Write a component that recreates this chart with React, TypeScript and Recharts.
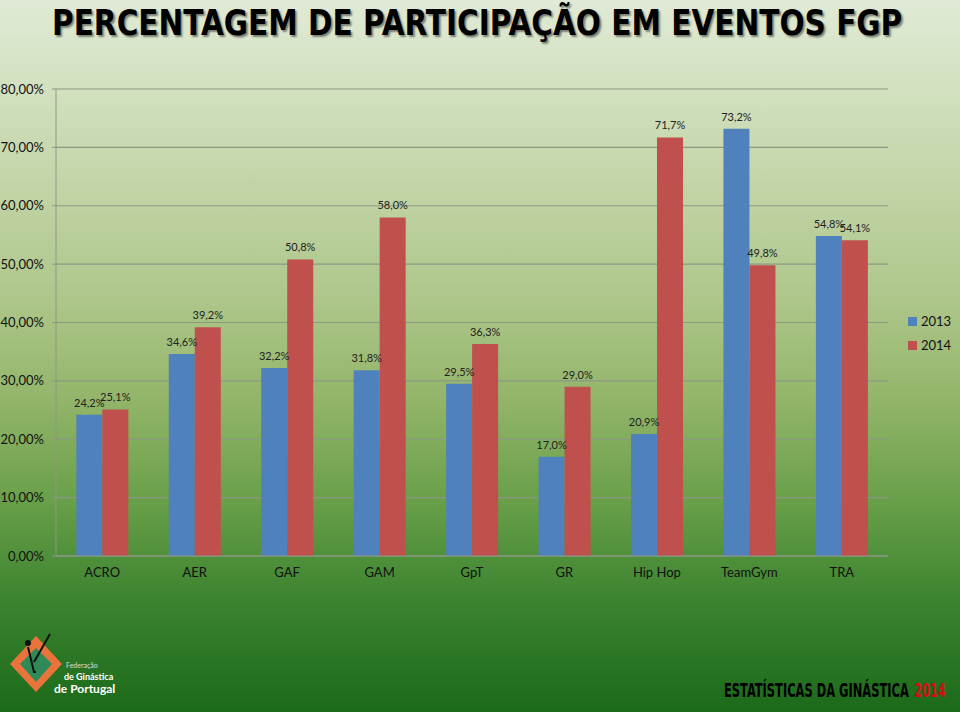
import { useLayoutEffect, useRef, useState } from "react";
import { BarChart, Bar, XAxis, YAxis, CartesianGrid, LabelList } from "recharts";

const categorias = ["ACRO", "AER", "GAF", "GAM", "GpT", "GR", "Hip Hop", "TeamGym", "TRA"];
const valores2013 = [24.2, 34.6, 32.2, 31.8, 29.5, 17.0, 20.9, 73.2, 54.8];
const valores2014 = [25.1, 39.2, 50.8, 58.0, 36.3, 29.0, 71.7, 49.8, 54.1];
const ticksY = [0, 10, 20, 30, 40, 50, 60, 70, 80];

const AZUL = "#4f81bd";
const VERMELHO = "#c0504d";
const FONTE = "Lato, 'Open Sans', sans-serif";
const FONTE_ESTREITA = "'Liberation Sans Narrow', 'DejaVu Sans Condensed', sans-serif";

const dados = categorias.map((cat, i) => ({
  cat,
  a2013: valores2013[i],
  a2014: valores2014[i],
}));

const fmtPct = (v: number) => v.toFixed(1).replace(".", ",") + "%";
const fmtTick = (v: number) => v.toFixed(2).replace(".", ",") + "%";

// texto html comprimido na horizontal até caber na largura pedida
function TextoAjustado({
  children,
  left,
  top,
  width,
  style,
}: {
  children: React.ReactNode;
  left: number;
  top: number;
  width: number;
  style?: React.CSSProperties;
}) {
  const ref = useRef<HTMLSpanElement>(null);
  const [escala, setEscala] = useState(1);
  useLayoutEffect(() => {
    if (ref.current) {
      const w = ref.current.offsetWidth;
      if (w > 0) setEscala(width / w);
    }
  }, [width]);
  return (
    <span
      ref={ref}
      style={{
        position: "absolute",
        left,
        top,
        whiteSpace: "nowrap",
        fontFamily: FONTE_ESTREITA,
        fontWeight: "bold",
        lineHeight: 1,
        transform: `scaleX(${escala})`,
        transformOrigin: "left top",
        ...style,
      }}
    >
      {children}
    </span>
  );
}

// legenda à direita, fora do gráfico (senão o recharts rouba altura da área)
const Legenda = () => (
  <div
    style={{
      position: "absolute",
      left: 908,
      top: 309,
      fontFamily: FONTE,
      fontSize: 13,
      color: "#111",
      lineHeight: "24px",
    }}
  >
    {[
      { cor: AZUL, nome: "2013" },
      { cor: VERMELHO, nome: "2014" },
    ].map((item) => (
      <div key={item.nome} style={{ display: "flex", alignItems: "center" }}>
        <span style={{ width: 9, height: 9, background: item.cor, marginRight: 4, display: "inline-block" }} />
        {item.nome}
      </div>
    ))}
  </div>
);

export default function App() {
  return (
    <div
      style={{
        position: "absolute",
        left: 0,
        top: 0,
        width: 960,
        height: 712,
        overflow: "hidden",
        background:
          "linear-gradient(to bottom, #e0ead6 0%, #d4e2c2 11%, #aec68a 42%, #93b56a 56%, #6aa04a 70%, #3d8430 84%, #1b6a1a 100%)",
        fontFamily: FONTE,
      }}
    >
      <TextoAjustado
        left={52}
        top={5}
        width={850}
        style={{ fontSize: 36, color: "#000", textShadow: "2px 2px 2px rgba(0,0,0,0.45)" }}
      >
        PERCENTAGEM DE PARTICIPAÇÃO EM EVENTOS FGP
      </TextoAjustado>

      <div style={{ position: "absolute", left: 0, top: 0 }}>
        <BarChart
          width={960}
          height={600}
          data={dados}
          margin={{ top: 89, right: 72, bottom: 14, left: 0 }}
          barCategoryGap="22%"
          barGap={0}
        >
          <CartesianGrid vertical={false} stroke="#8c9886" strokeWidth={1.2} />
          <XAxis
            dataKey="cat"
            height={30}
            tickLine={false}
            axisLine={{ stroke: "#8c9886" }}
            tick={{ fill: "#111", fontSize: 13, fontFamily: FONTE }}
            tickMargin={6}
          />
          <YAxis
            width={56}
            domain={[0, 80]}
            ticks={ticksY}
            tickFormatter={fmtTick}
            axisLine={{ stroke: "#8c9886" }}
            tickLine={{ stroke: "#8c9886" }}
            tickSize={4}
            tickMargin={8}
            tick={{ fill: "#111", fontSize: 13, fontFamily: FONTE }}
          />
          <Bar dataKey="a2013" name="2013" fill={AZUL} isAnimationActive={false}>
            <LabelList dataKey="a2013" position="top" offset={8} formatter={fmtPct} style={{ fontSize: 11, fill: "#222", fontFamily: FONTE }} />
          </Bar>
          <Bar dataKey="a2014" name="2014" fill={VERMELHO} isAnimationActive={false}>
            <LabelList dataKey="a2014" position="top" offset={8} formatter={fmtPct} style={{ fontSize: 11, fill: "#222", fontFamily: FONTE }} />
          </Bar>
        </BarChart>
      </div>

      <Legenda />

      {/* logotipo simplificado */}
      <svg width={120} height={72} style={{ position: "absolute", left: 6, top: 630 }}>
        <polygon points="30,6 56,34 30,62 4,34" fill="#e8743b" />
        <polygon points="30,18 46,34 30,52 14,34" fill="#2e8b57" />
        <circle cx={22} cy={13} r={3} fill="#111" />
        <path d="M22,17 L28,42 L30,42 M28,32 L44,4" stroke="#111" strokeWidth={2} fill="none" />
        <text x={60} y={38} fontSize={7} fill="#ddd" fontFamily={FONTE}>Federação</text>
        <text x={58} y={50} fontSize={9} fill="#fff" fontWeight="bold" fontFamily={FONTE}>de Ginástica</text>
        <text x={48} y={63} fontSize={12} fill="#fff" fontWeight="bold" fontFamily={FONTE}>de Portugal</text>
      </svg>

      <TextoAjustado left={724} top={681} width={185} style={{ fontSize: 19, color: "#000" }}>
        ESTATÍSTICAS DA GINÁSTICA
      </TextoAjustado>
      <TextoAjustado left={914} top={681} width={32} style={{ fontSize: 19, color: "#d01010" }}>
        2014
      </TextoAjustado>
    </div>
  );
}
